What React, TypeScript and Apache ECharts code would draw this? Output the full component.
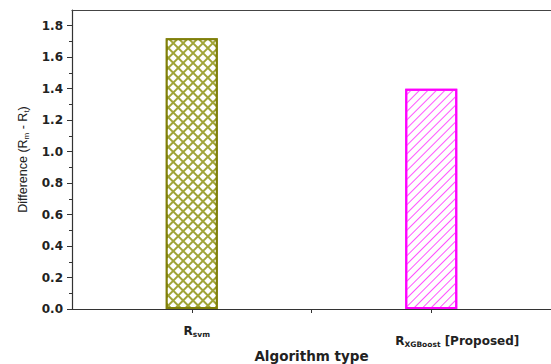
import React, { useEffect, useRef } from "react";
import * as echarts from "echarts";

const catMain = ["R", "R"];
const catSub = ["svm", "XGBoost"];
const catSuffix = ["", " [Proposed]"];
const values = [1.72, 1.40];
const yTicks = [0, 0.2, 0.4, 0.6, 0.8, 1.0, 1.2, 1.4, 1.6, 1.8];

export default function App() {
  const ref = useRef<HTMLDivElement>(null);
  useEffect(() => {
    const chart = echarts.init(ref.current!, null, { renderer: "svg" });
    const pos = values.map((_, i) => 2 * i + 1);
    const font = "DejaVu Sans, Arial, sans-serif";
    const font2 = "Liberation Sans, Arial, sans-serif";
    chart.setOption({
      animation: false,
      grid: { left: 72, right: 0, top: 10, bottom: 55, containLabel: false, outerBoundsMode: "none" },
      xAxis: [
        {
          type: "value",
          min: 0,
          max: 4,
          interval: 1,
          splitLine: { show: false },
          axisLine: { show: true, lineStyle: { color: "#333", width: 1.2 } },
          axisTick: { show: true, length: 4, customValues: [1, 2, 3], lineStyle: { color: "#333" } },
          axisLabel: {
            customValues: pos,
            margin: 15,
            formatter: (v: number) => {
              const i = pos.indexOf(Math.round(v));
              if (i < 0) return "";
              return i === 0
                ? `{r|${catMain[i]}}{s|${catSub[i]}}`
                : `{r3|${catMain[i]}}{s2|${catSub[i]}}{r2|${catSuffix[i]}}`;
            },
            rich: {
              r: { fontFamily: font, fontWeight: "bold", fontSize: 12, color: "#222", padding: [0, 0, 0, 10] },
              s: { fontFamily: font, fontWeight: "bold", fontSize: 7.5, color: "#222", padding: [6, 0, 0, 0] },
              r3: { fontFamily: font, fontWeight: "bold", fontSize: 12, color: "#222", padding: [10, 0, 0, 52] },
              r2: { fontFamily: font, fontWeight: "bold", fontSize: 12, color: "#222", padding: [10, 0, 0, 0] },
              s2: { fontFamily: font, fontWeight: "bold", fontSize: 7.5, color: "#222", padding: [16, 0, 0, 0] },
            },
          },
          name: "Algorithm type",
          nameLocation: "middle",
          nameGap: 40,
          nameMoveOverlap: false,
          nameTextStyle: { fontFamily: font, fontWeight: "bold", fontSize: 13.5, color: "#222" },
        },
        {
          type: "value",
          position: "top",
          min: 0,
          max: 4,
          axisLine: { show: true, lineStyle: { color: "#444", width: 1.2 } },
          axisTick: { show: false },
          axisLabel: { show: false },
          splitLine: { show: false },
        },
      ],
      yAxis: {
        type: "value",
        min: 0,
        max: 1.9,
        interval: 0.2,
        splitLine: { show: false },
        axisLine: { show: true, lineStyle: { color: "#333", width: 1.2 } },
        axisTick: { show: true, length: 5, customValues: yTicks, lineStyle: { color: "#333" } },
        minorTick: { show: true, splitNumber: 2, length: 3, lineStyle: { color: "#333" } },
        axisLabel: {
          customValues: yTicks,
          margin: 9,
          formatter: (v: number) => v.toFixed(1),
          fontFamily: font,
          fontWeight: "bold",
          fontSize: 12,
          color: "#222",
        },
        name: "{a|Difference (R}{b|m}{a| - R}{b|t}{a|)}",
        nameLocation: "middle",
        nameGap: 42,
        nameMoveOverlap: false,
        nameTextStyle: {
          rich: {
            a: { fontFamily: font2, fontSize: 12.5, color: "#222" },
            b: { fontFamily: font2, fontSize: 8, color: "#222", padding: [6, 0, 0, 0] },
          },
        },
      },
      series: [
        {
          type: "bar",
          xAxisIndex: 0,
          barWidth: 52,
          data: [
            {
              value: [pos[0], values[0]],
              itemStyle: {
                color: "#a0a438",
                borderColor: "#80800a",
                borderWidth: 2,
                decal: {
                  symbol: "rect",
                  symbolSize: 1,
                  color: "#ffffff",
                  dashArrayX: [4.5, 1.1],
                  dashArrayY: [4.5, 1.1],
                  rotation: Math.PI / 4,
                },
              },
            },
            {
              value: [pos[1], values[1]],
              itemStyle: {
                color: "#ffffff",
                borderColor: "#ff00ff",
                borderWidth: 2,
                decal: {
                  symbol: "rect",
                  symbolSize: 1,
                  color: "#ff55ff",
                  dashArrayX: [1, 0],
                  dashArrayY: [1, 5],
                  rotation: -Math.PI / 4,
                },
              },
            },
          ],
        },
      ],
    });
    return () => chart.dispose();
  }, []);
  return <div ref={ref} style={{ width: 551, height: 364, position: "absolute", left: 0, top: 0 }} />;
}
